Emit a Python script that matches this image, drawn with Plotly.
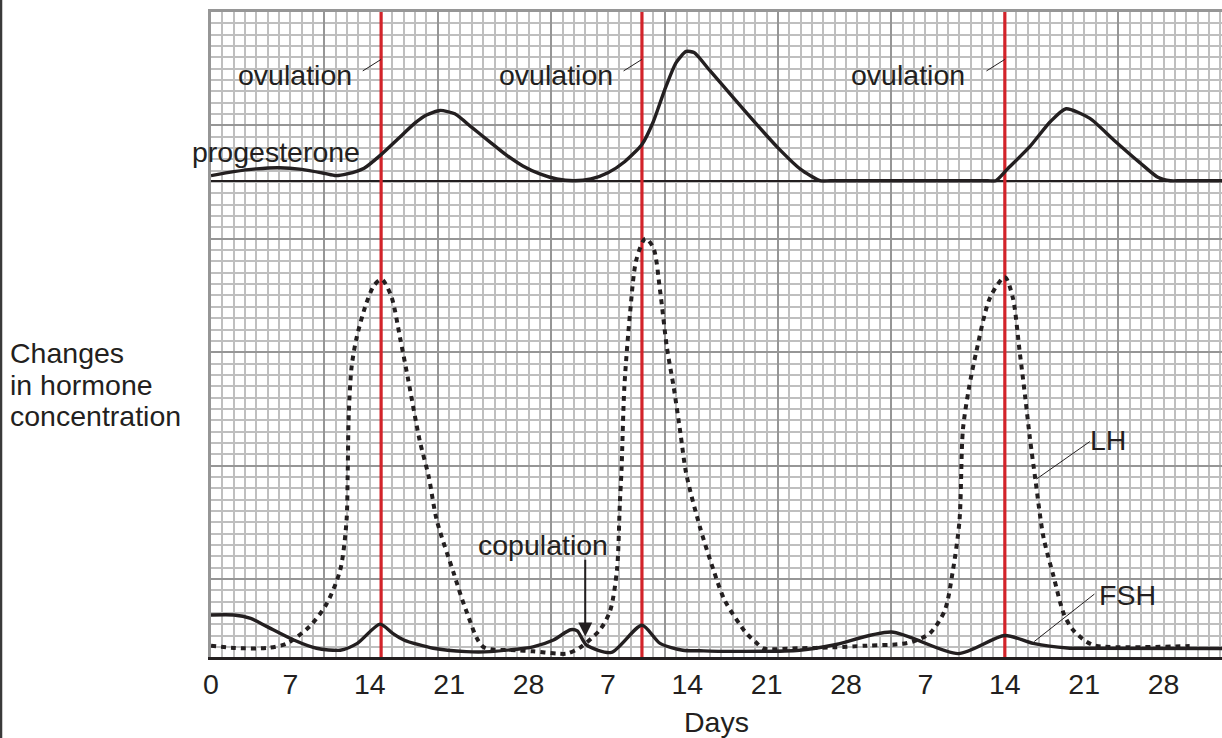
import plotly.graph_objects as go

# ---------------- data ----------------
tick_days = [0, 7, 14, 21, 28, 35, 42, 49, 56, 63, 70, 77, 84]
tick_text = ["0", "7", "14", "21", "28", "7", "14", "21", "28", "7", "14", "21", "28"]

ovulation_days = [15, 38, 70]
copulation_day = 33

prog_days = [0, 2, 4, 6, 8, 10, 11, 12, 13.5, 15, 16.5, 18, 19, 20.2, 21.5, 23, 24.5, 26,
             27.5, 29, 30.5, 32, 33.5, 35, 36.5, 38, 39, 40, 41, 41.9, 42.6, 44, 46, 48,
             50, 52, 53.7, 54.6, 60, 65, 68.5, 69.2, 70.2, 72.2, 74, 75.4, 77.5, 79.6,
             81.9, 83.5, 84.6, 85.5, 89.2]
prog_level = [0.45, 0.8, 1.05, 1.15, 1.0, 0.65, 0.45, 0.6, 1.1, 2.3, 3.7, 5.1, 5.8, 6.2,
              5.9, 4.7, 3.5, 2.3, 1.3, 0.6, 0.15, 0.0, 0.15, 0.7, 1.7, 3.2, 5.2, 8.0, 10.4,
              11.4, 11.3, 9.7, 7.4, 5.1, 2.9, 1.0, 0.0, 0, 0, 0, 0, 0, 1.0, 3.0, 5.2, 6.35,
              5.5, 3.6, 1.6, 0.3, 0, 0, 0]

lh_days = [0, 2, 5, 6.7, 8.7, 10.2, 11.4, 11.95, 12.05, 12.15, 12.4, 12.85, 13.7, 14.4,
           15.05, 15.9, 16.7, 17.4, 18.4, 19.2, 19.9, 21.4, 22.5, 24.0, 26.9, 28.4, 30.5,
           31.4, 32.5, 34.3, 35.2, 35.8, 36.05, 36.2, 36.45, 36.95, 37.5, 38.3, 39.0, 39.6,
           40.2, 40.8, 41.4, 41.9, 43.1, 44.3, 45.3, 47.2, 48.0, 48.7, 51.9, 54.8, 57.8,
           60.8, 61.9, 63.4, 64.7, 65.4, 66.0, 66.3, 66.8, 67.5, 68.7, 70.0, 70.7, 71.3,
           71.8, 72.2, 72.7, 73.4, 74.3, 75.2, 76.0, 77.2, 78.1, 86.3]
lh_level = [1.0, 0.8, 0.8, 1.2, 2.7, 4.7, 7.7, 12, 16, 21.5, 25.6, 28.2, 31.2, 32.8,
            33.3, 31.8, 28.0, 24.4, 19.1, 15.9, 12.1, 7.4, 4.1, 0.9, 0.6, 0.5, 0.3,
            0.3, 0.8, 2.4, 4.1, 7.7, 13.5, 16.5, 23.8, 30.3, 35.0, 36.9, 36.1, 32.3,
            27.3, 23.8, 19.7, 16.2, 11.5, 7.7, 5.0, 2.1, 1.35, 0.77, 0.77, 0.85, 1.0,
            1.14, 1.35, 2.1, 4.1, 7.5, 12, 20, 23.5, 27, 31.7, 33.5, 31.7, 27,
            22.9, 19.4, 15.6, 10.6, 7.1, 3.8, 2.4, 1.35, 0.97, 0.97]

fsh_days = [0, 2, 3.5, 4.9, 7.3, 9.3, 11.4, 12.9, 14.9, 16.0, 17.0, 19.6, 22.5, 24.6,
            28.4, 30.2, 31.7, 32.3, 33.1, 35.3, 38.0, 39.6, 41.6, 43.1, 45.0, 51.9, 54.9,
            60.0, 65.9, 70.0, 72.5, 75.5, 77.6, 89.2]
fsh_level = [3.7, 3.7, 3.4, 2.7, 1.5, 0.77, 0.6, 1.2, 2.9, 2.1, 1.5, 0.77, 0.47, 0.47,
             0.9, 1.5, 2.4, 2.3, 1.06, 0.4, 2.8, 1.2, 0.6, 0.55, 0.5, 0.6, 1.06,
             2.2, 0.3, 1.9, 1.2, 0.8, 0.77, 0.75]

y_title_lines = ["Changes", "in hormone", "concentration"]

# ---------------- layout constants ----------------
XMAX = 89.15
YMAX = 56.88
PROG_BASE = 42.0
INK = "#231f20"
RED = "#d2232a"
FONT = "Liberation Sans, Arial, sans-serif"
FS = 28.5

fig = go.Figure()

# red ovulation lines
for d in ovulation_days:
    fig.add_trace(go.Scatter(x=[d, d], y=[0, YMAX], mode="lines",
                             line=dict(color=RED, width=3.2),
                             hoverinfo="skip", showlegend=False, xaxis="x", yaxis="y"))

fig.add_trace(go.Scatter(x=lh_days, y=lh_level, mode="lines", name="LH",
                         line=dict(color=INK, width=4, dash="5px,5px", shape="spline",
                                   smoothing=0.8),
                         showlegend=False, xaxis="x", yaxis="y"))
fig.add_trace(go.Scatter(x=fsh_days, y=fsh_level, mode="lines", name="FSH",
                         line=dict(color=INK, width=3.4, shape="spline", smoothing=0.7),
                         showlegend=False, xaxis="x", yaxis="y"))
fig.add_trace(go.Scatter(x=prog_days, y=prog_level, mode="lines", name="progesterone",
                         line=dict(color=INK, width=3.4, shape="spline", smoothing=0.6),
                         showlegend=False, xaxis="x2", yaxis="y2"))

ann = []
txt = dict(family=FONT, size=FS, color=INK)

# ovulation labels + leader lines
for d, lx in zip(ovulation_days, [7.4, 30.4, 61.5]):
    ann.append(dict(x=lx, y=51.3, xref="x", yref="y", text="ovulation", showarrow=False,
                    font=txt, xanchor="center", yanchor="middle"))
    ann.append(dict(x=d, y=52.7, xref="x", yref="y", ax=d - 1.75, ay=51.6,
                    axref="x", ayref="y", text="", showarrow=True, arrowhead=0,
                    arrowwidth=1, arrowcolor=INK, standoff=0, startstandoff=0))

ann.append(dict(x=13.3, y=44.5, xref="x", yref="y", text="progesterone", showarrow=False,
                font=txt, xanchor="right", yanchor="middle"))

ann.append(dict(x=29.3, y=9.9, xref="x", yref="y", text="copulation", showarrow=False,
                font=txt, xanchor="center", yanchor="middle"))
ann.append(dict(x=copulation_day, y=1.8, xref="x", yref="y", ax=copulation_day, ay=8.7,
                axref="x", ayref="y", text="", showarrow=True, arrowhead=2, arrowsize=1.4,
                arrowwidth=2, arrowcolor=INK, standoff=0, startstandoff=0))

ann.append(dict(x=77.3, y=19.1, xref="x", yref="y", text="LH", showarrow=False,
                font=txt, xanchor="left", yanchor="middle"))
ann.append(dict(x=77.5, y=19.0, xref="x", yref="y", ax=72.66, ay=15.6, axref="x", ayref="y",
                text="", showarrow=True, arrowhead=0, arrowwidth=1, arrowcolor=INK,
                standoff=0, startstandoff=0))
ann.append(dict(x=78.1, y=5.5, xref="x", yref="y", text="FSH", showarrow=False,
                font=txt, xanchor="left", yanchor="middle"))
ann.append(dict(x=77.9, y=5.55, xref="x", yref="y", ax=72.46, ay=1.26, axref="x", ayref="y",
                text="", showarrow=True, arrowhead=0, arrowwidth=1, arrowcolor=INK,
                standoff=0, startstandoff=0))

# vertical-axis title, one annotation per line (tighter line spacing than <br>)
for line_text, yp in zip(y_title_lines, [0.4713, 0.4217, 0.3736]):
    ann.append(dict(x=-0.2008, y=yp, xref="paper", yref="paper", text=line_text,
                    showarrow=False, font=txt, xanchor="left", yanchor="middle",
                    align="left"))

MAJOR = "#969696"
MINOR = "#bfbfbf"

fig.update_layout(
    width=1222, height=738,
    margin=dict(l=211, r=0, t=12, b=81),
    paper_bgcolor="white", plot_bgcolor="white",
    showlegend=False,
    annotations=ann,
    shapes=[dict(type="line", xref="paper", yref="paper", x0=-0.2077, x1=-0.2077,
                 y0=-0.13, y1=1.03, line=dict(color="#3a3a3a", width=2.5))],
    xaxis=dict(range=[0, XMAX], tickvals=tick_days, ticktext=tick_text, showgrid=False,
               zeroline=False, showline=True, linecolor=INK, linewidth=3, ticks="",
               tickfont=dict(family=FONT, size=FS, color=INK),
               title=dict(text="Days", font=dict(family=FONT, size=FS, color=INK),
                          standoff=14)),
    xaxis2=dict(range=[0, XMAX], overlaying="x", side="top", matches="x",
                tick0=0, dtick=10, showgrid=True, gridcolor=MAJOR, gridwidth=2.2,
                minor=dict(dtick=1, tick0=0, showgrid=True, gridcolor=MINOR, gridwidth=1.5),
                showticklabels=False, ticks="", zeroline=False,
                showline=True, linecolor=MAJOR, linewidth=2.5, anchor="y2"),
    yaxis=dict(range=[0, YMAX], tick0=YMAX - 50, dtick=10, showgrid=True, gridcolor=MAJOR,
               gridwidth=2.2,
               minor=dict(dtick=1, tick0=YMAX - 50, showgrid=True, gridcolor=MINOR,
                          gridwidth=1.5),
               showticklabels=False, ticks="", zeroline=False,
               showline=True, linecolor=MAJOR, linewidth=2.5),
    yaxis2=dict(range=[-PROG_BASE, YMAX - PROG_BASE], overlaying="y", anchor="x2",
                showgrid=False, showticklabels=False, ticks="",
                zeroline=True, zerolinecolor=INK, zerolinewidth=2.3),
)

fig.write_html("out.html", config={"displayModeBar": False},
               post_script="document.body.style.margin='0';")
